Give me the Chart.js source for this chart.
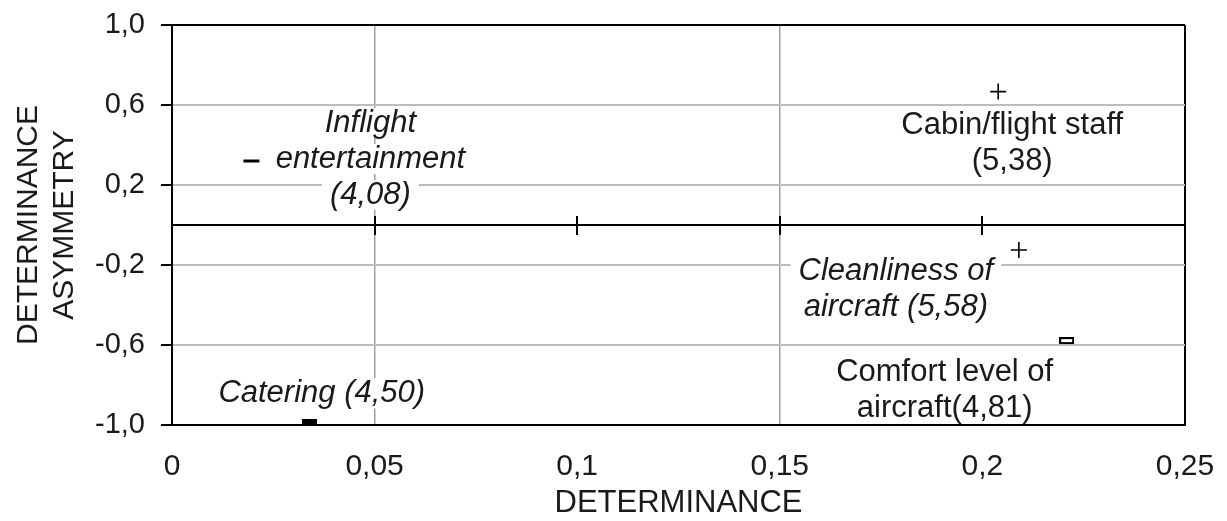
<!DOCTYPE html>
<html>
<head>
<meta charset="utf-8">
<script src="https://cdn.jsdelivr.net/npm/chart.js@4.4.1/dist/chart.umd.min.js"></script>
<style>
  html, body { margin: 0; padding: 0; background: #fff; }
  #wrap { width: 1227px; height: 521px; }
</style>
</head>
<body>
<div id="wrap"><canvas id="chart" width="1227" height="521"></canvas></div>
<script>
// values
const attributes = ['Inflight entertainment', 'Cabin/flight staff', 'Cleanliness of aircraft', 'Comfort level of aircraft', 'Catering'];
const determinance = [0.0196, 0.2039, 0.209, 0.2208, 0.034];
const asymmetry = [0.32, 0.667, -0.125, -0.578, -0.987];
const importance = ['4,08', '5,38', '5,58', '4,81', '4,50'];

const xTicks = [0, 0.05, 0.1, 0.15, 0.2, 0.25];
const yTicks = [-1, -0.6, -0.2, 0.2, 0.6, 1];
const xGridAt = [0.05, 0.15];
const zeroAxisMarks = [0.05, 0.1, 0.15, 0.2];

const labelLines = [
    ['Inflight', 'entertainment', `(${importance[0]})`],
    ['Cabin/flight staff', `(${importance[1]})`],
    ['Cleanliness of', `aircraft (${importance[2]})`],
    ['Comfort level of', `aircraft(${importance[3]})`],
    [`Catering (${importance[4]})`]
];
const labelItalic = [true, false, true, false, true];
// label block offset from its marker, px
const labelOffsets = [[119, -2], [14, 52], [-123, 39], [-122, 50], [12, -29]];

function barMarker(w, h, hollow) {
    const c = document.createElement('canvas');
    c.width = w; c.height = h;
    const g = c.getContext('2d');
    if (hollow) {
        g.strokeStyle = '#000';
        g.lineWidth = 2;
        g.strokeRect(1, 1, w - 2, h - 2);
    } else {
        g.fillStyle = '#000';
        g.fillRect(0, 0, w, h);
    }
    return c;
}

const pointStyles = ['line', 'cross', 'cross', barMarker(15, 7, true), barMarker(15, 6, false)];
const pointWidths = [3, 1.6, 1.6, 0, 0];

const FONT = 'Liberation Sans';
Chart.defaults.font.family = FONT;
Chart.defaults.color = '#1a1a1a';

const fmtX = v => String(+v.toFixed(2)).replace('.', ',');
const fmtY = v => v === 0 ? '' : v.toFixed(1).replace('.', ',');

const zeroMarks = {
    id: 'zeroMarks',
    beforeDatasetsDraw(chart) {
        const { ctx, scales: { x, y } } = chart;
        const py = y.getPixelForValue(0);
        ctx.save();
        ctx.strokeStyle = '#000';
        ctx.lineWidth = 2;
        zeroAxisMarks.forEach(v => {
            const px = Math.round(x.getPixelForValue(v));
            ctx.beginPath();
            ctx.moveTo(px, py - 9);
            ctx.lineTo(px, py + 10);
            ctx.stroke();
        });
        ctx.restore();
    }
};

const pointLabels = {
    id: 'pointLabels',
    afterDatasetsDraw(chart) {
        const { ctx, scales: { x, y } } = chart;
        ctx.save();
        ctx.textAlign = 'center';
        ctx.textBaseline = 'middle';
        labelLines.forEach((lines, i) => {
            const cx = x.getPixelForValue(determinance[i]) + labelOffsets[i][0];
            const cy = y.getPixelForValue(asymmetry[i]) + labelOffsets[i][1];
            ctx.font = (labelItalic[i] ? 'italic ' : '') + '31px "' + FONT + '"';
            lines.forEach((t, k) => {
                const ly = cy + (k - (lines.length - 1) / 2) * 36;
                const w = ctx.measureText(t).width;
                ctx.fillStyle = '#fff';
                ctx.fillRect(cx - w / 2 - 8, ly - 15, w + 16, 30);
                ctx.fillStyle = '#1a1a1a';
                ctx.fillText(t, cx, ly);
            });
        });
        ctx.restore();
    }
};

new Chart(document.getElementById('chart'), {
    type: 'scatter',
    data: {
        datasets: [{
            label: 'Attributes',
            data: attributes.map((name, i) => ({ x: determinance[i], y: asymmetry[i] })),
            pointStyle: pointStyles,
            pointRadius: 8,
            borderWidth: pointWidths,
            borderColor: '#000',
            backgroundColor: '#000'
        }]
    },
    options: {
        responsive: false,
        animation: false,
        events: [],
        layout: { padding: { top: 25, right: 42, left: 0, bottom: 0 } },
        plugins: {
            legend: { display: false },
            tooltip: { enabled: false }
        },
        scales: {
            x: {
                type: 'linear',
                min: 0,
                max: 0.25,
                afterBuildTicks: s => { s.ticks = xTicks.map(v => ({ value: v })); },
                afterFit: s => {
                    s.height = 96;
                    s.paddingLeft = 0;
                    s.paddingRight = 0;
                },
                border: { display: true, color: '#000', width: 2 },
                grid: {
                    drawTicks: false,
                    color: c => {
                        const v = c.tick ? c.tick.value : null;
                        if (v === 0 || v === 0.25) return '#000';
                        return xGridAt.includes(v) ? '#a0a0a0' : 'rgba(0,0,0,0)';
                    },
                    lineWidth: c => (c.tick && (c.tick.value === 0 || c.tick.value === 0.25)) ? 2 : 1.5
                },
                ticks: {
                    padding: 24,
                    maxRotation: 0,
                    autoSkip: false,
                    font: { size: 30 },
                    callback: v => fmtX(v)
                },
                title: {
                    display: true,
                    text: 'DETERMINANCE',
                    font: { size: 31, lineHeight: 1.1 },
                    padding: { top: 0, bottom: 0 }
                }
            },
            y: {
                type: 'linear',
                min: -1,
                max: 1,
                afterBuildTicks: s => { s.ticks = yTicks.concat([0]).sort((a, b) => a - b).map(v => ({ value: v })); },
                afterFit: s => {
                    s.width = 172;
                    s.paddingTop = 0;
                    s.paddingBottom = 0;
                },
                border: { display: true, color: '#000', width: 2 },
                grid: {
                    drawTicks: true,
                    tickLength: 11,
                    tickWidth: 2,
                    tickColor: c => (c.tick && c.tick.value === 0) ? 'rgba(0,0,0,0)' : '#000',
                    color: c => {
                        const v = c.tick ? c.tick.value : null;
                        return (v === 0 || Math.abs(v) === 1) ? '#000' : '#bdbdbd';
                    },
                    lineWidth: 2
                },
                ticks: {
                    padding: 16,
                    autoSkip: false,
                    font: { size: 29 },
                    callback: v => fmtY(v)
                },
                title: {
                    display: true,
                    text: ['DETERMINANCE', 'ASYMMETRY'],
                    font: { size: 30, lineHeight: 1.2 },
                    padding: { top: 11, bottom: 0 }
                }
            }
        }
    },
    plugins: [zeroMarks, pointLabels]
});
</script>
</body>
</html>
